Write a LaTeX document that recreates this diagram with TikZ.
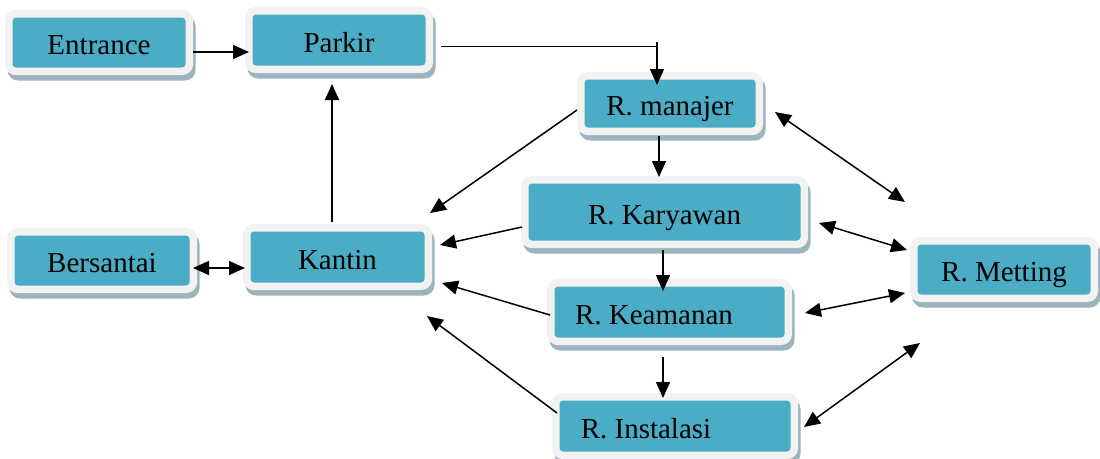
\documentclass[tikz,border=0pt]{standalone}
\usepackage{fontspec}
\setmainfont{Liberation Serif}
\usetikzlibrary{arrows.meta,calc}
\definecolor{boxblue}{HTML}{4BACC6}
\definecolor{boxrim}{HTML}{F2F2F2}
\definecolor{boxshade}{HTML}{9DB4BD}
\tikzset{
  roomtext/.style={font=\fontsize{29}{34}\selectfont, text height=24pt, text depth=0pt, inner sep=0pt},
  room/.style={roomtext, fill=boxblue, draw=boxrim, line width=7.5pt, rounded corners=7pt,
    outer sep=3.75pt,
    preaction={draw=boxshade, fill=boxshade, transform canvas={shift={(2.5pt,-5.5pt)}}}},
  link/.style={line width=1.5pt, -{Triangle[length=16pt,width=14pt]}},
  twoway/.style={line width=1.5pt, {Triangle[length=16pt,width=14pt]}-{Triangle[length=16pt,width=14pt]}},
  feed/.style={line width=1pt},
}
\begin{document}
\begin{tikzpicture}[x=1pt, y=-1pt]
\useasboundingbox (0,0) rectangle (1100,458);

% rooms
\node[room, minimum width=180.5pt, minimum height=57.5pt] (entrance) at (99,42.5) {Entrance};
\node[room, minimum width=180.5pt, minimum height=58.5pt] (parkir) at (339,40) {Parkir};
\node[room, minimum width=178.5pt, minimum height=55.5pt] (manajer) at (670,103.5) {R. manajer};
\node[room, minimum width=279.5pt, minimum height=64.5pt] (karyawan) at (664.5,212) {R. Karyawan};
\node[room, minimum width=237.5pt, minimum height=58.5pt] (keamanan) at (669.5,312) {};
\node[roomtext] (keamanantxt) at ($(keamanan.center)+(-15.5,0)$) {R. Keamanan};
\node[room, minimum width=238.5pt, minimum height=58.5pt] (instalasi) at (675,426) {};
\node[roomtext] (instalasitxt) at ($(instalasi.center)+(-29,0)$) {R. Instalasi};
\node[room, minimum width=180.5pt, minimum height=57.5pt] (metting) at (1004,269.5) {R. Metting};
\node[room, minimum width=182.5pt, minimum height=57.5pt] (bersantai) at (102,260.5) {Bersantai};
\node[room, minimum width=181.5pt, minimum height=58.5pt] (kantin) at (337.5,257) {Kantin};

% main route
\draw[link] ($(entrance.east)+(0,9.5)$) -- ($(parkir.west)+(4,12)$);
\coordinate (bend) at ($(manajer.north)+(-13,-26)$);
\draw[feed] ($(parkir.east)+(8,6)$) -- (bend);
\draw[link] ($(bend)+(0,-4)$) -- ($(manajer.north)+(-13,13)$);
\draw[link] ($(manajer.south)+(-11,1)$) -- ($(karyawan.north)+(-5.5,1)$);
\draw[link] ($(karyawan.south)+(-1.5,2)$) -- ($(keamanan.north)+(-6.5,12)$);
\draw[link] ($(keamanan.south)+(-6.5,12)$) -- ($(instalasi.north)+(-12,5)$);
\draw[link] ($(kantin.north)+(-5.5,-2)$) -- ($(parkir.south)+(-7,11)$);
\draw[twoway] ($(bersantai.east)+(-4,7.5)$) -- ($(kantin.west)+(2,11)$);

% towards the canteen
\draw[link] ($(manajer.west)+(0,6.5)$) -- ($(kantin.east)+(-2,-44)$);
\draw[link] ($(karyawan.west)+(1,15)$) -- ($(kantin.east)+(8,-12)$);
\draw[link] ($(keamanan.west)+(3,3)$) -- ($(kantin.east)+(10,26)$);
\draw[link] ($(instalasi.west)+(5,-13)$) -- ($(kantin.east)+(-5,59)$);

% meeting room links
\draw[twoway] ($(manajer.east)+(12,8.5)$) -- ($(metting.west)+(-5,-67.5)$);
\draw[twoway] ($(karyawan.east)+(11,11)$) -- ($(metting.west)+(-3,-19.5)$);
\draw[twoway] ($(keamanan.east)+(13,1)$) -- ($(metting.west)+(-5,23.5)$);
\draw[twoway] ($(instalasi.east)+(6,1)$) -- ($(metting.west)+(10,73.5)$);
\end{tikzpicture}
\end{document}
